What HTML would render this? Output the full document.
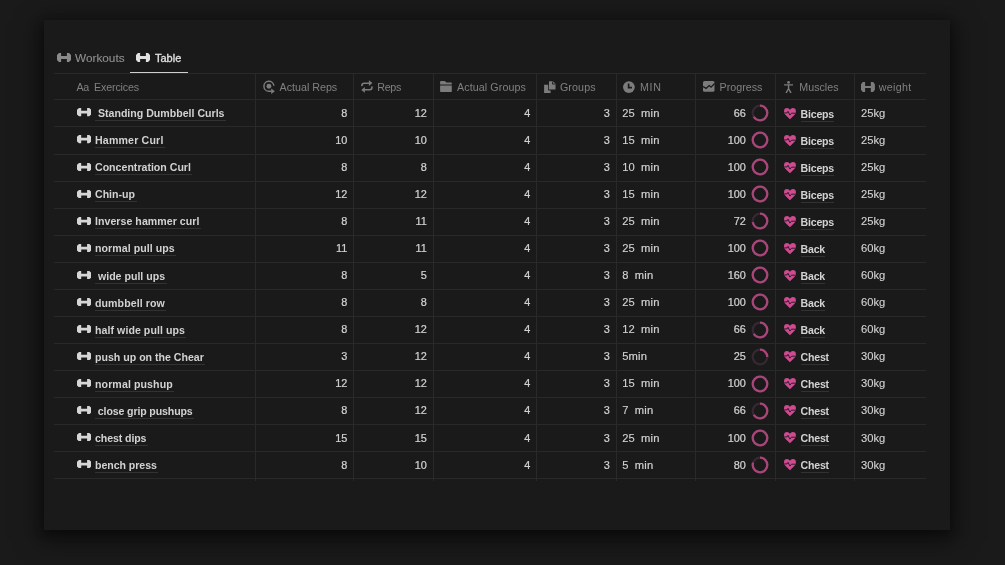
<!DOCTYPE html>
<html><head><meta charset="utf-8"><style>
*{margin:0;padding:0;box-sizing:border-box}
html,body{width:1005px;height:565px;overflow:hidden;background:#1a1a1a;font-family:"Liberation Sans",sans-serif}
.wrap{position:absolute;left:0;top:0;width:1005px;height:565px;will-change:transform}
.abs{position:absolute;display:block}
.card{position:absolute;left:44px;top:20px;width:906px;height:510px;background:#1a1a1a;box-shadow:0 6px 22px 5px rgba(0,0,0,0.5),0 3px 8px 1px rgba(0,0,0,0.25)}
.t{position:absolute;white-space:pre;line-height:14px;height:14px}
.hd{font-size:10.7px;color:#808080}
.ttl{font-size:10.6px;font-weight:bold;color:#d2d2d2}
.ttl span{border-bottom:1px solid #323232;padding-right:1.5px;display:inline-block;line-height:13px}
.ms span{padding-right:0}
.ms{letter-spacing:-0.2px}
.num{font-size:10.9px;color:#d2d2d2;text-align:right;-webkit-text-stroke:0.22px #d2d2d2}
.plain{font-size:11.2px;color:#d2d2d2;-webkit-text-stroke:0.12px #d2d2d2}
.mn{-webkit-text-stroke:0.2px #d2d2d2;letter-spacing:0.2px}
</style></head><body>
<div class="card"></div>
<div class="wrap">
<svg class="abs" style="left:57.1px;top:53.2px" width="14" height="9" viewBox="0 0 14.3 8.3" preserveAspectRatio="none"><path d="M0 1.8L2 0H4.2V2.7H10.1V0H12.3L14.3 1.8V6.5L12.3 8.3H10.1V5.5H4.2V8.3H2L0 6.5Z" fill="#8a8a8a"/></svg><div class="t" style="left:75.0px;top:50.6px;font-size:11.8px;color:#8f8f8f;-webkit-text-stroke:0.12px #8f8f8f">Workouts</div>
<svg class="abs" style="left:135.8px;top:53.2px" width="14" height="9" viewBox="0 0 14.3 8.3" preserveAspectRatio="none"><path d="M0 1.8L2 0H4.2V2.7H10.1V0H12.3L14.3 1.8V6.5L12.3 8.3H10.1V5.5H4.2V8.3H2L0 6.5Z" fill="#e0e0e0"/></svg><div class="t" style="left:155px;top:50.6px;font-size:11px;color:#e2e2e2;-webkit-text-stroke:0.3px #e2e2e2">Table</div>
<div class="abs" style="left:130px;top:71.5px;width:57.5px;height:2px;background:#cfcfcf"></div>
<div class="abs" style="left:54px;top:73px;width:871.5px;height:1px;background:#292929"></div>
<div class="abs" style="left:54px;top:99.40px;width:871.5px;height:1px;background:#292929"></div>
<div class="abs" style="left:54px;top:126.45px;width:871.5px;height:1px;background:#292929"></div>
<div class="abs" style="left:54px;top:153.50px;width:871.5px;height:1px;background:#292929"></div>
<div class="abs" style="left:54px;top:180.55px;width:871.5px;height:1px;background:#292929"></div>
<div class="abs" style="left:54px;top:207.60px;width:871.5px;height:1px;background:#292929"></div>
<div class="abs" style="left:54px;top:234.65px;width:871.5px;height:1px;background:#292929"></div>
<div class="abs" style="left:54px;top:261.70px;width:871.5px;height:1px;background:#292929"></div>
<div class="abs" style="left:54px;top:288.75px;width:871.5px;height:1px;background:#292929"></div>
<div class="abs" style="left:54px;top:315.80px;width:871.5px;height:1px;background:#292929"></div>
<div class="abs" style="left:54px;top:342.85px;width:871.5px;height:1px;background:#292929"></div>
<div class="abs" style="left:54px;top:369.90px;width:871.5px;height:1px;background:#292929"></div>
<div class="abs" style="left:54px;top:396.95px;width:871.5px;height:1px;background:#292929"></div>
<div class="abs" style="left:54px;top:424.00px;width:871.5px;height:1px;background:#292929"></div>
<div class="abs" style="left:54px;top:451.05px;width:871.5px;height:1px;background:#292929"></div>
<div class="abs" style="left:54px;top:478.10px;width:871.5px;height:1px;background:#292929"></div>
<div class="abs" style="left:255.0px;top:73px;width:1px;height:408.10px;background:#292929"></div>
<div class="abs" style="left:353.0px;top:73px;width:1px;height:408.10px;background:#292929"></div>
<div class="abs" style="left:432.5px;top:73px;width:1px;height:408.10px;background:#292929"></div>
<div class="abs" style="left:536.0px;top:73px;width:1px;height:408.10px;background:#292929"></div>
<div class="abs" style="left:615.5px;top:73px;width:1px;height:408.10px;background:#292929"></div>
<div class="abs" style="left:695.0px;top:73px;width:1px;height:408.10px;background:#292929"></div>
<div class="abs" style="left:775.0px;top:73px;width:1px;height:408.10px;background:#292929"></div>
<div class="abs" style="left:854.0px;top:73px;width:1px;height:408.10px;background:#292929"></div>
<svg class="abs" style="left:262.6px;top:80.2px;color:#7c7c7c" width="13" height="14.5" viewBox="0 0 13 14.5"><path d="M10.9 5.8A5 5 0 1 0 5.92 11.25H8.6" fill="none" stroke="currentColor" stroke-width="1.45"/><circle cx="5.92" cy="6.25" r="2.45" fill="currentColor"/><path d="M8.2 8.5L11.9 11.25L8.2 14Z" fill="currentColor"/></svg>
<svg class="abs" style="left:360.8px;top:80.2px;color:#7c7c7c" width="12" height="13" viewBox="0 0 12 13"><path d="M0.9 5.6Q0.9 3.2 3.2 3.2H8.2" fill="none" stroke="currentColor" stroke-width="1.6" stroke-linecap="round"/><path d="M7.9 0.2L11.4 3.1L7.9 6Z" fill="currentColor"/><path d="M11 7.1Q11 9.8 8.7 9.8H3.7" fill="none" stroke="currentColor" stroke-width="1.6" stroke-linecap="round"/><path d="M3.9 7L0.3 9.9L3.9 12.8Z" fill="currentColor"/></svg>
<svg class="abs" style="left:440.1px;top:81px;color:#7c7c7c" width="12" height="11.5" viewBox="0 0 12 11.5"><path d="M0.9 0.1H4.3Q5 0.1 5.5 0.6L6.3 1.4H11.1Q11.8 1.4 11.8 2.1V3.4H0.1V0.9Q0.1 0.1 0.9 0.1Z" fill="currentColor"/><path d="M0.1 4.4H11.8V10.3Q11.8 11 11.1 11H0.8Q0.1 11 0.1 10.3Z" fill="currentColor"/></svg>
<svg class="abs" style="left:543.7px;top:80.7px;color:#7c7c7c" width="12" height="12.5" viewBox="0 0 12 12.5"><path d="M5 0.2H8.9L11.5 2.8V8.6H5Z" fill="currentColor"/><path d="M8.6 0.5V3.1H11.2" fill="none" stroke="#1a1a1a" stroke-width="0.9"/><path d="M0.1 3.7H4.2V9.4H6.6V12H0.1Z" fill="currentColor"/></svg>
<svg class="abs" style="left:623.1px;top:80.7px;color:#7c7c7c" width="12" height="12.5" viewBox="0 0 12 12.5"><circle cx="5.9" cy="6.05" r="5.9" fill="currentColor"/><path d="M5.6 2.5V6.6H9" fill="none" stroke="#1a1a1a" stroke-width="1.7"/></svg>
<svg class="abs" style="left:703.1px;top:81.2px;color:#7c7c7c" width="12" height="11" viewBox="0 0 12 11"><rect x="0" y="0" width="11.5" height="10.8" rx="1.6" fill="currentColor"/><path d="M0 5.6L3.1 7.4L6.1 4.5L8.1 6.1L11.6 2.4" fill="none" stroke="#1a1a1a" stroke-width="1.3"/></svg>
<svg class="abs" style="left:783.9px;top:80.5px;color:#7c7c7c" width="9.5" height="12.5" viewBox="0 0 9.5 12.5"><circle cx="4.55" cy="1.4" r="1.4" fill="currentColor"/><path d="M0.6 3.9H8.5M4.55 3.9V7.5L2.3 11.6M4.55 7.5L6.8 11.6" fill="none" stroke="currentColor" stroke-width="1.4" stroke-linecap="round" stroke-linejoin="round"/></svg>
<svg class="abs" style="left:861px;top:81.8px" width="14" height="10" viewBox="0 0 14 10"><path d="M0 2.2L1.75 0H4.1V3.9H9.8V0H12.15L13.9 2.2V7.7L12.15 9.9H9.8V5.9H4.1V9.9H1.75L0 7.7Z" fill="#7c7c7c"/></svg>
<div class="t hd" style="left:76.5px;top:79.8px;letter-spacing:-0.5px">Aa</div>
<div class="t hd" style="left:94.0px;top:79.8px;letter-spacing:-0.15px">Exercices</div>
<div class="t hd" style="left:279.6px;top:79.8px;letter-spacing:0px">Actual Reps</div>
<div class="t hd" style="left:377.2px;top:79.8px;letter-spacing:-0.25px">Reps</div>
<div class="t hd" style="left:457.0px;top:79.8px;letter-spacing:0.1px">Actual Groups</div>
<div class="t hd" style="left:559.9px;top:79.8px;letter-spacing:0.13px">Groups</div>
<div class="t hd" style="left:640.0px;top:79.8px;letter-spacing:0.7px">MIN</div>
<div class="t hd" style="left:719.6px;top:79.8px;letter-spacing:0px">Progress</div>
<div class="t hd" style="left:799.3px;top:79.8px;letter-spacing:0px">Muscles</div>
<div class="t hd" style="left:878.8px;top:79.8px;letter-spacing:0.33px">weight</div>
<svg class="abs" style="left:76.9px;top:108.4px" width="14.3" height="8.3" viewBox="0 0 14.3 8.3"><path d="M0 1.8L2 0H4.2V2.7H10.1V0H12.3L14.3 1.8V6.5L12.3 8.3H10.1V5.5H4.2V8.3H2L0 6.5Z" fill="#d6d6d6"/></svg><div class="t ttl" style="left:95.0px;top:106.20px;letter-spacing:0px"><span> Standing Dumbbell Curls</span></div>
<div class="t num" style="left:307.3px;width:40px;top:105.90px">8</div>
<div class="t num" style="left:386.8px;width:40px;top:105.90px">12</div>
<div class="t num" style="left:490.29999999999995px;width:40px;top:105.90px">4</div>
<div class="t num" style="left:569.8px;width:40px;top:105.90px">3</div>
<div class="t plain" style="left:622.3px;top:105.90px">25  <span class="mn">min</span></div>
<div class="t num" style="left:705.8px;width:40px;top:105.90px">66</div>
<svg class="abs" style="left:751.4px;top:104.1px" width="18" height="18" viewBox="0 0 18 18"><circle cx="9" cy="9" r="7.3" fill="none" stroke="#362830" stroke-width="2.3"/><circle cx="9" cy="9" r="7.3" fill="none" stroke="#a84579" stroke-width="2.3" stroke-dasharray="30.27 45.87" transform="rotate(-90 9 9)"/></svg><svg class="abs" style="left:783.7px;top:107.7px" width="12" height="11.5" viewBox="0 0 12 11.5"><path d="M5.95 11.3L1.1 6.5Q0 5.3 0 3.4Q0 0.1 3.1 0.1Q4.9 0.1 5.95 1.7Q7 0.1 8.8 0.1Q11.9 0.1 11.9 3.4Q11.9 5.3 10.8 6.5Z" fill="#d04a91"/><path d="M0.3 4.9H3.1L4.0 3.3L5.9 7.1L7.5 5.2H11.6" fill="none" stroke="#1a1a1a" stroke-width="0.9"/></svg><div class="t ttl ms" style="left:800.5px;top:106.60px"><span>Biceps</span></div>
<div class="t plain" style="left:861px;top:105.90px">25kg</div>
<svg class="abs" style="left:76.9px;top:135.45px" width="14.3" height="8.3" viewBox="0 0 14.3 8.3"><path d="M0 1.8L2 0H4.2V2.7H10.1V0H12.3L14.3 1.8V6.5L12.3 8.3H10.1V5.5H4.2V8.3H2L0 6.5Z" fill="#d6d6d6"/></svg><div class="t ttl" style="left:95.0px;top:133.25px;letter-spacing:0.18px"><span>Hammer Curl</span></div>
<div class="t num" style="left:307.3px;width:40px;top:132.95px">10</div>
<div class="t num" style="left:386.8px;width:40px;top:132.95px">10</div>
<div class="t num" style="left:490.29999999999995px;width:40px;top:132.95px">4</div>
<div class="t num" style="left:569.8px;width:40px;top:132.95px">3</div>
<div class="t plain" style="left:622.3px;top:132.95px">15  <span class="mn">min</span></div>
<div class="t num" style="left:705.8px;width:40px;top:132.95px">100</div>
<svg class="abs" style="left:751.4px;top:131.15px" width="18" height="18" viewBox="0 0 18 18"><circle cx="9" cy="9" r="7.3" fill="none" stroke="#362830" stroke-width="2.3"/><circle cx="9" cy="9" r="7.3" fill="none" stroke="#a84579" stroke-width="2.3" stroke-dasharray="45.87 45.87" transform="rotate(-90 9 9)"/></svg><svg class="abs" style="left:783.7px;top:134.75px" width="12" height="11.5" viewBox="0 0 12 11.5"><path d="M5.95 11.3L1.1 6.5Q0 5.3 0 3.4Q0 0.1 3.1 0.1Q4.9 0.1 5.95 1.7Q7 0.1 8.8 0.1Q11.9 0.1 11.9 3.4Q11.9 5.3 10.8 6.5Z" fill="#d04a91"/><path d="M0.3 4.9H3.1L4.0 3.3L5.9 7.1L7.5 5.2H11.6" fill="none" stroke="#1a1a1a" stroke-width="0.9"/></svg><div class="t ttl ms" style="left:800.5px;top:133.65px"><span>Biceps</span></div>
<div class="t plain" style="left:861px;top:132.95px">25kg</div>
<svg class="abs" style="left:76.9px;top:162.5px" width="14.3" height="8.3" viewBox="0 0 14.3 8.3"><path d="M0 1.8L2 0H4.2V2.7H10.1V0H12.3L14.3 1.8V6.5L12.3 8.3H10.1V5.5H4.2V8.3H2L0 6.5Z" fill="#d6d6d6"/></svg><div class="t ttl" style="left:95.0px;top:160.30px;letter-spacing:0px"><span>Concentration Curl</span></div>
<div class="t num" style="left:307.3px;width:40px;top:160.00px">8</div>
<div class="t num" style="left:386.8px;width:40px;top:160.00px">8</div>
<div class="t num" style="left:490.29999999999995px;width:40px;top:160.00px">4</div>
<div class="t num" style="left:569.8px;width:40px;top:160.00px">3</div>
<div class="t plain" style="left:622.3px;top:160.00px">10  <span class="mn">min</span></div>
<div class="t num" style="left:705.8px;width:40px;top:160.00px">100</div>
<svg class="abs" style="left:751.4px;top:158.2px" width="18" height="18" viewBox="0 0 18 18"><circle cx="9" cy="9" r="7.3" fill="none" stroke="#362830" stroke-width="2.3"/><circle cx="9" cy="9" r="7.3" fill="none" stroke="#a84579" stroke-width="2.3" stroke-dasharray="45.87 45.87" transform="rotate(-90 9 9)"/></svg><svg class="abs" style="left:783.7px;top:161.8px" width="12" height="11.5" viewBox="0 0 12 11.5"><path d="M5.95 11.3L1.1 6.5Q0 5.3 0 3.4Q0 0.1 3.1 0.1Q4.9 0.1 5.95 1.7Q7 0.1 8.8 0.1Q11.9 0.1 11.9 3.4Q11.9 5.3 10.8 6.5Z" fill="#d04a91"/><path d="M0.3 4.9H3.1L4.0 3.3L5.9 7.1L7.5 5.2H11.6" fill="none" stroke="#1a1a1a" stroke-width="0.9"/></svg><div class="t ttl ms" style="left:800.5px;top:160.70px"><span>Biceps</span></div>
<div class="t plain" style="left:861px;top:160.00px">25kg</div>
<svg class="abs" style="left:76.9px;top:189.55px" width="14.3" height="8.3" viewBox="0 0 14.3 8.3"><path d="M0 1.8L2 0H4.2V2.7H10.1V0H12.3L14.3 1.8V6.5L12.3 8.3H10.1V5.5H4.2V8.3H2L0 6.5Z" fill="#d6d6d6"/></svg><div class="t ttl" style="left:95.0px;top:187.35px;letter-spacing:0px"><span>Chin-up</span></div>
<div class="t num" style="left:307.3px;width:40px;top:187.05px">12</div>
<div class="t num" style="left:386.8px;width:40px;top:187.05px">12</div>
<div class="t num" style="left:490.29999999999995px;width:40px;top:187.05px">4</div>
<div class="t num" style="left:569.8px;width:40px;top:187.05px">3</div>
<div class="t plain" style="left:622.3px;top:187.05px">15  <span class="mn">min</span></div>
<div class="t num" style="left:705.8px;width:40px;top:187.05px">100</div>
<svg class="abs" style="left:751.4px;top:185.25px" width="18" height="18" viewBox="0 0 18 18"><circle cx="9" cy="9" r="7.3" fill="none" stroke="#362830" stroke-width="2.3"/><circle cx="9" cy="9" r="7.3" fill="none" stroke="#a84579" stroke-width="2.3" stroke-dasharray="45.87 45.87" transform="rotate(-90 9 9)"/></svg><svg class="abs" style="left:783.7px;top:188.85px" width="12" height="11.5" viewBox="0 0 12 11.5"><path d="M5.95 11.3L1.1 6.5Q0 5.3 0 3.4Q0 0.1 3.1 0.1Q4.9 0.1 5.95 1.7Q7 0.1 8.8 0.1Q11.9 0.1 11.9 3.4Q11.9 5.3 10.8 6.5Z" fill="#d04a91"/><path d="M0.3 4.9H3.1L4.0 3.3L5.9 7.1L7.5 5.2H11.6" fill="none" stroke="#1a1a1a" stroke-width="0.9"/></svg><div class="t ttl ms" style="left:800.5px;top:187.75px"><span>Biceps</span></div>
<div class="t plain" style="left:861px;top:187.05px">25kg</div>
<svg class="abs" style="left:76.9px;top:216.6px" width="14.3" height="8.3" viewBox="0 0 14.3 8.3"><path d="M0 1.8L2 0H4.2V2.7H10.1V0H12.3L14.3 1.8V6.5L12.3 8.3H10.1V5.5H4.2V8.3H2L0 6.5Z" fill="#d6d6d6"/></svg><div class="t ttl" style="left:95.0px;top:214.40px;letter-spacing:0.04px"><span>Inverse hammer curl</span></div>
<div class="t num" style="left:307.3px;width:40px;top:214.10px">8</div>
<div class="t num" style="left:386.8px;width:40px;top:214.10px">11</div>
<div class="t num" style="left:490.29999999999995px;width:40px;top:214.10px">4</div>
<div class="t num" style="left:569.8px;width:40px;top:214.10px">3</div>
<div class="t plain" style="left:622.3px;top:214.10px">25  <span class="mn">min</span></div>
<div class="t num" style="left:705.8px;width:40px;top:214.10px">72</div>
<svg class="abs" style="left:751.4px;top:212.3px" width="18" height="18" viewBox="0 0 18 18"><circle cx="9" cy="9" r="7.3" fill="none" stroke="#362830" stroke-width="2.3"/><circle cx="9" cy="9" r="7.3" fill="none" stroke="#a84579" stroke-width="2.3" stroke-dasharray="33.02 45.87" transform="rotate(-90 9 9)"/></svg><svg class="abs" style="left:783.7px;top:215.9px" width="12" height="11.5" viewBox="0 0 12 11.5"><path d="M5.95 11.3L1.1 6.5Q0 5.3 0 3.4Q0 0.1 3.1 0.1Q4.9 0.1 5.95 1.7Q7 0.1 8.8 0.1Q11.9 0.1 11.9 3.4Q11.9 5.3 10.8 6.5Z" fill="#d04a91"/><path d="M0.3 4.9H3.1L4.0 3.3L5.9 7.1L7.5 5.2H11.6" fill="none" stroke="#1a1a1a" stroke-width="0.9"/></svg><div class="t ttl ms" style="left:800.5px;top:214.80px"><span>Biceps</span></div>
<div class="t plain" style="left:861px;top:214.10px">25kg</div>
<svg class="abs" style="left:76.9px;top:243.65px" width="14.3" height="8.3" viewBox="0 0 14.3 8.3"><path d="M0 1.8L2 0H4.2V2.7H10.1V0H12.3L14.3 1.8V6.5L12.3 8.3H10.1V5.5H4.2V8.3H2L0 6.5Z" fill="#d6d6d6"/></svg><div class="t ttl" style="left:95.0px;top:241.45px;letter-spacing:0.06px"><span>normal pull ups</span></div>
<div class="t num" style="left:307.3px;width:40px;top:241.15px">11</div>
<div class="t num" style="left:386.8px;width:40px;top:241.15px">11</div>
<div class="t num" style="left:490.29999999999995px;width:40px;top:241.15px">4</div>
<div class="t num" style="left:569.8px;width:40px;top:241.15px">3</div>
<div class="t plain" style="left:622.3px;top:241.15px">25  <span class="mn">min</span></div>
<div class="t num" style="left:705.8px;width:40px;top:241.15px">100</div>
<svg class="abs" style="left:751.4px;top:239.35px" width="18" height="18" viewBox="0 0 18 18"><circle cx="9" cy="9" r="7.3" fill="none" stroke="#362830" stroke-width="2.3"/><circle cx="9" cy="9" r="7.3" fill="none" stroke="#a84579" stroke-width="2.3" stroke-dasharray="45.87 45.87" transform="rotate(-90 9 9)"/></svg><svg class="abs" style="left:783.7px;top:242.95px" width="12" height="11.5" viewBox="0 0 12 11.5"><path d="M5.95 11.3L1.1 6.5Q0 5.3 0 3.4Q0 0.1 3.1 0.1Q4.9 0.1 5.95 1.7Q7 0.1 8.8 0.1Q11.9 0.1 11.9 3.4Q11.9 5.3 10.8 6.5Z" fill="#d04a91"/><path d="M0.3 4.9H3.1L4.0 3.3L5.9 7.1L7.5 5.2H11.6" fill="none" stroke="#1a1a1a" stroke-width="0.9"/></svg><div class="t ttl ms" style="left:800.5px;top:241.85px"><span>Back</span></div>
<div class="t plain" style="left:861px;top:241.15px">60kg</div>
<svg class="abs" style="left:76.9px;top:270.7px" width="14.3" height="8.3" viewBox="0 0 14.3 8.3"><path d="M0 1.8L2 0H4.2V2.7H10.1V0H12.3L14.3 1.8V6.5L12.3 8.3H10.1V5.5H4.2V8.3H2L0 6.5Z" fill="#d6d6d6"/></svg><div class="t ttl" style="left:95.0px;top:268.50px;letter-spacing:0px"><span> wide pull ups</span></div>
<div class="t num" style="left:307.3px;width:40px;top:268.20px">8</div>
<div class="t num" style="left:386.8px;width:40px;top:268.20px">5</div>
<div class="t num" style="left:490.29999999999995px;width:40px;top:268.20px">4</div>
<div class="t num" style="left:569.8px;width:40px;top:268.20px">3</div>
<div class="t plain" style="left:622.3px;top:268.20px">8  <span class="mn">min</span></div>
<div class="t num" style="left:705.8px;width:40px;top:268.20px">160</div>
<svg class="abs" style="left:751.4px;top:266.4px" width="18" height="18" viewBox="0 0 18 18"><circle cx="9" cy="9" r="7.3" fill="none" stroke="#362830" stroke-width="2.3"/><circle cx="9" cy="9" r="7.3" fill="none" stroke="#a84579" stroke-width="2.3" stroke-dasharray="45.87 45.87" transform="rotate(-90 9 9)"/></svg><svg class="abs" style="left:783.7px;top:270.0px" width="12" height="11.5" viewBox="0 0 12 11.5"><path d="M5.95 11.3L1.1 6.5Q0 5.3 0 3.4Q0 0.1 3.1 0.1Q4.9 0.1 5.95 1.7Q7 0.1 8.8 0.1Q11.9 0.1 11.9 3.4Q11.9 5.3 10.8 6.5Z" fill="#d04a91"/><path d="M0.3 4.9H3.1L4.0 3.3L5.9 7.1L7.5 5.2H11.6" fill="none" stroke="#1a1a1a" stroke-width="0.9"/></svg><div class="t ttl ms" style="left:800.5px;top:268.90px"><span>Back</span></div>
<div class="t plain" style="left:861px;top:268.20px">60kg</div>
<svg class="abs" style="left:76.9px;top:297.75px" width="14.3" height="8.3" viewBox="0 0 14.3 8.3"><path d="M0 1.8L2 0H4.2V2.7H10.1V0H12.3L14.3 1.8V6.5L12.3 8.3H10.1V5.5H4.2V8.3H2L0 6.5Z" fill="#d6d6d6"/></svg><div class="t ttl" style="left:95.0px;top:295.55px;letter-spacing:0.08px"><span>dumbbell row</span></div>
<div class="t num" style="left:307.3px;width:40px;top:295.25px">8</div>
<div class="t num" style="left:386.8px;width:40px;top:295.25px">8</div>
<div class="t num" style="left:490.29999999999995px;width:40px;top:295.25px">4</div>
<div class="t num" style="left:569.8px;width:40px;top:295.25px">3</div>
<div class="t plain" style="left:622.3px;top:295.25px">25  <span class="mn">min</span></div>
<div class="t num" style="left:705.8px;width:40px;top:295.25px">100</div>
<svg class="abs" style="left:751.4px;top:293.45px" width="18" height="18" viewBox="0 0 18 18"><circle cx="9" cy="9" r="7.3" fill="none" stroke="#362830" stroke-width="2.3"/><circle cx="9" cy="9" r="7.3" fill="none" stroke="#a84579" stroke-width="2.3" stroke-dasharray="45.87 45.87" transform="rotate(-90 9 9)"/></svg><svg class="abs" style="left:783.7px;top:297.05px" width="12" height="11.5" viewBox="0 0 12 11.5"><path d="M5.95 11.3L1.1 6.5Q0 5.3 0 3.4Q0 0.1 3.1 0.1Q4.9 0.1 5.95 1.7Q7 0.1 8.8 0.1Q11.9 0.1 11.9 3.4Q11.9 5.3 10.8 6.5Z" fill="#d04a91"/><path d="M0.3 4.9H3.1L4.0 3.3L5.9 7.1L7.5 5.2H11.6" fill="none" stroke="#1a1a1a" stroke-width="0.9"/></svg><div class="t ttl ms" style="left:800.5px;top:295.95px"><span>Back</span></div>
<div class="t plain" style="left:861px;top:295.25px">60kg</div>
<svg class="abs" style="left:76.9px;top:324.8px" width="14.3" height="8.3" viewBox="0 0 14.3 8.3"><path d="M0 1.8L2 0H4.2V2.7H10.1V0H12.3L14.3 1.8V6.5L12.3 8.3H10.1V5.5H4.2V8.3H2L0 6.5Z" fill="#d6d6d6"/></svg><div class="t ttl" style="left:95.0px;top:322.60px;letter-spacing:0.06px"><span>half wide pull ups</span></div>
<div class="t num" style="left:307.3px;width:40px;top:322.30px">8</div>
<div class="t num" style="left:386.8px;width:40px;top:322.30px">12</div>
<div class="t num" style="left:490.29999999999995px;width:40px;top:322.30px">4</div>
<div class="t num" style="left:569.8px;width:40px;top:322.30px">3</div>
<div class="t plain" style="left:622.3px;top:322.30px">12  <span class="mn">min</span></div>
<div class="t num" style="left:705.8px;width:40px;top:322.30px">66</div>
<svg class="abs" style="left:751.4px;top:320.5px" width="18" height="18" viewBox="0 0 18 18"><circle cx="9" cy="9" r="7.3" fill="none" stroke="#362830" stroke-width="2.3"/><circle cx="9" cy="9" r="7.3" fill="none" stroke="#a84579" stroke-width="2.3" stroke-dasharray="30.27 45.87" transform="rotate(-90 9 9)"/></svg><svg class="abs" style="left:783.7px;top:324.1px" width="12" height="11.5" viewBox="0 0 12 11.5"><path d="M5.95 11.3L1.1 6.5Q0 5.3 0 3.4Q0 0.1 3.1 0.1Q4.9 0.1 5.95 1.7Q7 0.1 8.8 0.1Q11.9 0.1 11.9 3.4Q11.9 5.3 10.8 6.5Z" fill="#d04a91"/><path d="M0.3 4.9H3.1L4.0 3.3L5.9 7.1L7.5 5.2H11.6" fill="none" stroke="#1a1a1a" stroke-width="0.9"/></svg><div class="t ttl ms" style="left:800.5px;top:323.00px"><span>Back</span></div>
<div class="t plain" style="left:861px;top:322.30px">60kg</div>
<svg class="abs" style="left:76.9px;top:351.85px" width="14.3" height="8.3" viewBox="0 0 14.3 8.3"><path d="M0 1.8L2 0H4.2V2.7H10.1V0H12.3L14.3 1.8V6.5L12.3 8.3H10.1V5.5H4.2V8.3H2L0 6.5Z" fill="#d6d6d6"/></svg><div class="t ttl" style="left:95.0px;top:349.65px;letter-spacing:0px"><span>push up on the Chear</span></div>
<div class="t num" style="left:307.3px;width:40px;top:349.35px">3</div>
<div class="t num" style="left:386.8px;width:40px;top:349.35px">12</div>
<div class="t num" style="left:490.29999999999995px;width:40px;top:349.35px">4</div>
<div class="t num" style="left:569.8px;width:40px;top:349.35px">3</div>
<div class="t plain" style="left:622.3px;top:349.35px">5<span class="mn">min</span></div>
<div class="t num" style="left:705.8px;width:40px;top:349.35px">25</div>
<svg class="abs" style="left:751.4px;top:347.55px" width="18" height="18" viewBox="0 0 18 18"><circle cx="9" cy="9" r="7.3" fill="none" stroke="#362830" stroke-width="2.3"/><circle cx="9" cy="9" r="7.3" fill="none" stroke="#a84579" stroke-width="2.3" stroke-dasharray="11.47 45.87" transform="rotate(-90 9 9)"/></svg><svg class="abs" style="left:783.7px;top:351.15px" width="12" height="11.5" viewBox="0 0 12 11.5"><path d="M5.95 11.3L1.1 6.5Q0 5.3 0 3.4Q0 0.1 3.1 0.1Q4.9 0.1 5.95 1.7Q7 0.1 8.8 0.1Q11.9 0.1 11.9 3.4Q11.9 5.3 10.8 6.5Z" fill="#d04a91"/><path d="M0.3 4.9H3.1L4.0 3.3L5.9 7.1L7.5 5.2H11.6" fill="none" stroke="#1a1a1a" stroke-width="0.9"/></svg><div class="t ttl ms" style="left:800.5px;top:350.05px"><span>Chest</span></div>
<div class="t plain" style="left:861px;top:349.35px">30kg</div>
<svg class="abs" style="left:76.9px;top:378.9px" width="14.3" height="8.3" viewBox="0 0 14.3 8.3"><path d="M0 1.8L2 0H4.2V2.7H10.1V0H12.3L14.3 1.8V6.5L12.3 8.3H10.1V5.5H4.2V8.3H2L0 6.5Z" fill="#d6d6d6"/></svg><div class="t ttl" style="left:95.0px;top:376.70px;letter-spacing:0.1px"><span>normal pushup</span></div>
<div class="t num" style="left:307.3px;width:40px;top:376.40px">12</div>
<div class="t num" style="left:386.8px;width:40px;top:376.40px">12</div>
<div class="t num" style="left:490.29999999999995px;width:40px;top:376.40px">4</div>
<div class="t num" style="left:569.8px;width:40px;top:376.40px">3</div>
<div class="t plain" style="left:622.3px;top:376.40px">15  <span class="mn">min</span></div>
<div class="t num" style="left:705.8px;width:40px;top:376.40px">100</div>
<svg class="abs" style="left:751.4px;top:374.6px" width="18" height="18" viewBox="0 0 18 18"><circle cx="9" cy="9" r="7.3" fill="none" stroke="#362830" stroke-width="2.3"/><circle cx="9" cy="9" r="7.3" fill="none" stroke="#a84579" stroke-width="2.3" stroke-dasharray="45.87 45.87" transform="rotate(-90 9 9)"/></svg><svg class="abs" style="left:783.7px;top:378.2px" width="12" height="11.5" viewBox="0 0 12 11.5"><path d="M5.95 11.3L1.1 6.5Q0 5.3 0 3.4Q0 0.1 3.1 0.1Q4.9 0.1 5.95 1.7Q7 0.1 8.8 0.1Q11.9 0.1 11.9 3.4Q11.9 5.3 10.8 6.5Z" fill="#d04a91"/><path d="M0.3 4.9H3.1L4.0 3.3L5.9 7.1L7.5 5.2H11.6" fill="none" stroke="#1a1a1a" stroke-width="0.9"/></svg><div class="t ttl ms" style="left:800.5px;top:377.10px"><span>Chest</span></div>
<div class="t plain" style="left:861px;top:376.40px">30kg</div>
<svg class="abs" style="left:76.9px;top:405.95px" width="14.3" height="8.3" viewBox="0 0 14.3 8.3"><path d="M0 1.8L2 0H4.2V2.7H10.1V0H12.3L14.3 1.8V6.5L12.3 8.3H10.1V5.5H4.2V8.3H2L0 6.5Z" fill="#d6d6d6"/></svg><div class="t ttl" style="left:95.0px;top:403.75px;letter-spacing:-0.13px"><span> close grip pushups</span></div>
<div class="t num" style="left:307.3px;width:40px;top:403.45px">8</div>
<div class="t num" style="left:386.8px;width:40px;top:403.45px">12</div>
<div class="t num" style="left:490.29999999999995px;width:40px;top:403.45px">4</div>
<div class="t num" style="left:569.8px;width:40px;top:403.45px">3</div>
<div class="t plain" style="left:622.3px;top:403.45px">7  <span class="mn">min</span></div>
<div class="t num" style="left:705.8px;width:40px;top:403.45px">66</div>
<svg class="abs" style="left:751.4px;top:401.65px" width="18" height="18" viewBox="0 0 18 18"><circle cx="9" cy="9" r="7.3" fill="none" stroke="#362830" stroke-width="2.3"/><circle cx="9" cy="9" r="7.3" fill="none" stroke="#a84579" stroke-width="2.3" stroke-dasharray="30.27 45.87" transform="rotate(-90 9 9)"/></svg><svg class="abs" style="left:783.7px;top:405.25px" width="12" height="11.5" viewBox="0 0 12 11.5"><path d="M5.95 11.3L1.1 6.5Q0 5.3 0 3.4Q0 0.1 3.1 0.1Q4.9 0.1 5.95 1.7Q7 0.1 8.8 0.1Q11.9 0.1 11.9 3.4Q11.9 5.3 10.8 6.5Z" fill="#d04a91"/><path d="M0.3 4.9H3.1L4.0 3.3L5.9 7.1L7.5 5.2H11.6" fill="none" stroke="#1a1a1a" stroke-width="0.9"/></svg><div class="t ttl ms" style="left:800.5px;top:404.15px"><span>Chest</span></div>
<div class="t plain" style="left:861px;top:403.45px">30kg</div>
<svg class="abs" style="left:76.9px;top:433.0px" width="14.3" height="8.3" viewBox="0 0 14.3 8.3"><path d="M0 1.8L2 0H4.2V2.7H10.1V0H12.3L14.3 1.8V6.5L12.3 8.3H10.1V5.5H4.2V8.3H2L0 6.5Z" fill="#d6d6d6"/></svg><div class="t ttl" style="left:95.0px;top:430.80px;letter-spacing:-0.1px"><span>chest dips</span></div>
<div class="t num" style="left:307.3px;width:40px;top:430.50px">15</div>
<div class="t num" style="left:386.8px;width:40px;top:430.50px">15</div>
<div class="t num" style="left:490.29999999999995px;width:40px;top:430.50px">4</div>
<div class="t num" style="left:569.8px;width:40px;top:430.50px">3</div>
<div class="t plain" style="left:622.3px;top:430.50px">25  <span class="mn">min</span></div>
<div class="t num" style="left:705.8px;width:40px;top:430.50px">100</div>
<svg class="abs" style="left:751.4px;top:428.7px" width="18" height="18" viewBox="0 0 18 18"><circle cx="9" cy="9" r="7.3" fill="none" stroke="#362830" stroke-width="2.3"/><circle cx="9" cy="9" r="7.3" fill="none" stroke="#a84579" stroke-width="2.3" stroke-dasharray="45.87 45.87" transform="rotate(-90 9 9)"/></svg><svg class="abs" style="left:783.7px;top:432.3px" width="12" height="11.5" viewBox="0 0 12 11.5"><path d="M5.95 11.3L1.1 6.5Q0 5.3 0 3.4Q0 0.1 3.1 0.1Q4.9 0.1 5.95 1.7Q7 0.1 8.8 0.1Q11.9 0.1 11.9 3.4Q11.9 5.3 10.8 6.5Z" fill="#d04a91"/><path d="M0.3 4.9H3.1L4.0 3.3L5.9 7.1L7.5 5.2H11.6" fill="none" stroke="#1a1a1a" stroke-width="0.9"/></svg><div class="t ttl ms" style="left:800.5px;top:431.20px"><span>Chest</span></div>
<div class="t plain" style="left:861px;top:430.50px">30kg</div>
<svg class="abs" style="left:76.9px;top:460.05px" width="14.3" height="8.3" viewBox="0 0 14.3 8.3"><path d="M0 1.8L2 0H4.2V2.7H10.1V0H12.3L14.3 1.8V6.5L12.3 8.3H10.1V5.5H4.2V8.3H2L0 6.5Z" fill="#d6d6d6"/></svg><div class="t ttl" style="left:95.0px;top:457.85px;letter-spacing:-0.05px"><span>bench press</span></div>
<div class="t num" style="left:307.3px;width:40px;top:457.55px">8</div>
<div class="t num" style="left:386.8px;width:40px;top:457.55px">10</div>
<div class="t num" style="left:490.29999999999995px;width:40px;top:457.55px">4</div>
<div class="t num" style="left:569.8px;width:40px;top:457.55px">3</div>
<div class="t plain" style="left:622.3px;top:457.55px">5  <span class="mn">min</span></div>
<div class="t num" style="left:705.8px;width:40px;top:457.55px">80</div>
<svg class="abs" style="left:751.4px;top:455.75px" width="18" height="18" viewBox="0 0 18 18"><circle cx="9" cy="9" r="7.3" fill="none" stroke="#362830" stroke-width="2.3"/><circle cx="9" cy="9" r="7.3" fill="none" stroke="#a84579" stroke-width="2.3" stroke-dasharray="36.69 45.87" transform="rotate(-90 9 9)"/></svg><svg class="abs" style="left:783.7px;top:459.35px" width="12" height="11.5" viewBox="0 0 12 11.5"><path d="M5.95 11.3L1.1 6.5Q0 5.3 0 3.4Q0 0.1 3.1 0.1Q4.9 0.1 5.95 1.7Q7 0.1 8.8 0.1Q11.9 0.1 11.9 3.4Q11.9 5.3 10.8 6.5Z" fill="#d04a91"/><path d="M0.3 4.9H3.1L4.0 3.3L5.9 7.1L7.5 5.2H11.6" fill="none" stroke="#1a1a1a" stroke-width="0.9"/></svg><div class="t ttl ms" style="left:800.5px;top:458.25px"><span>Chest</span></div>
<div class="t plain" style="left:861px;top:457.55px">30kg</div>
</div></body></html>
